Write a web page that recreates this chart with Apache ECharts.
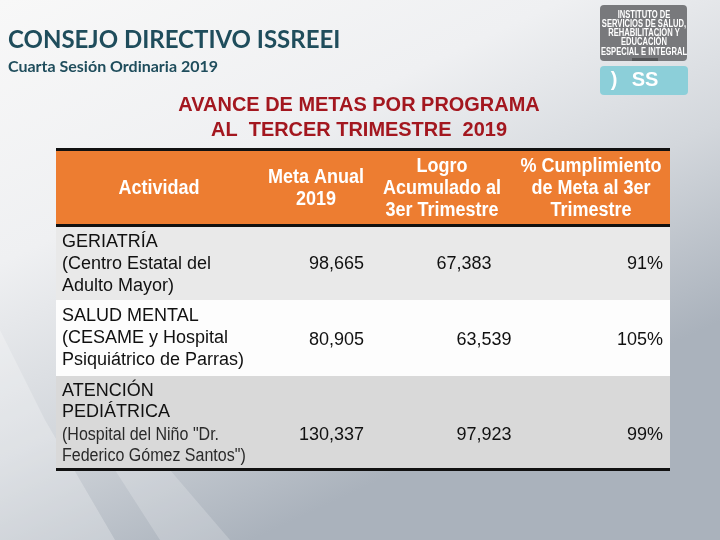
<!DOCTYPE html>
<html>
<head>
<meta charset="utf-8">
<script src="https://cdn.jsdelivr.net/npm/echarts@6/dist/echarts.min.js"></script>
<style>
  html, body { margin: 0; padding: 0; }
  #main { width: 720px; height: 540px; }
</style>
</head>
<body>
<div id="main"></div>
<script>
// datos de la tabla
var encabezados = [
  ['Actividad'],
  ['Meta Anual', '2019'],
  ['Logro', 'Acumulado al', '3er Trimestre'],
  ['% Cumplimiento', 'de Meta al 3er', 'Trimestre']
]
var actividades = [
  ['GERIATRÍA', '(Centro Estatal del', 'Adulto Mayor)'],
  ['SALUD MENTAL', '(CESAME y Hospital', 'Psiquiátrico de Parras)'],
  ['ATENCIÓN', 'PEDIÁTRICA', '(Hospital del Niño "Dr.', 'Federico Gómez Santos")']
]
var metaAnual = [98665, 80905, 130337]
var logro = [67383, 63539, 97923]
var cumplimiento = [91, 105, 99]

var titulo = 'CONSEJO DIRECTIVO ISSREEI'
var subtitulo = 'Cuarta Sesión Ordinaria 2019'
var tituloTabla = ['AVANCE DE METAS POR PROGRAMA', 'AL  TERCER TRIMESTRE  2019']
var logoTexto = ['INSTITUTO DE', 'SERVICIOS DE SALUD,', 'REHABILITACIÓN Y', 'EDUCACIÓN', 'ESPECIAL E INTEGRAL']

// layout
var tX = 56
var tW = 614
var headTop = 148
var headBottom = 227
var rowBounds = [227, 300, 376, 468]
var rowColors = ['#e9e9e9', '#fdfdfd', '#d9d9d9']
var headCenters = [159, 316, 442, 591]
var rowLineY = [[242, 264, 286], [316, 338, 360], [391, 412, 435, 456]]
var valueY = [264, 340, 435]
var logroX = [464, 484, 484]
var SANS = '"Liberation Sans", Arial'

function fmt(n) {
  return n.toLocaleString('en-US')
}

// texto con escala horizontal (para simular Arial Narrow)
function txt(text, x, y, font, fill, align, sx) {
  return {
    type: 'text', x: x, y: y, scaleX: sx || 1,
    style: { text: text, x: 0, y: 0, font: font, fill: fill, textAlign: align || 'left', textVerticalAlign: 'middle' }
  }
}

var chart = echarts.init(document.getElementById('main'))
var g = []

// fondo
g.push({
  type: 'rect', shape: { x: 0, y: 0, width: 720, height: 540 },
  style: {
    fill: new echarts.graphic.LinearGradient(0, 0, 0.35, 1, [
      { offset: 0, color: '#f8f8f8' },
      { offset: 0.4, color: '#eff0f2' },
      { offset: 0.7, color: '#d3d7dc' },
      { offset: 1, color: '#aab2bc' }
    ])
  }
})
g.push({
  type: 'polygon', shape: { points: [[0, 330], [45, 420], [115, 540], [0, 540]] },
  style: { fill: 'rgba(255,255,255,0.25)' }
})
g.push({
  type: 'polygon', shape: { points: [[115, 470], [170, 470], [230, 540], [160, 540]] },
  style: { fill: 'rgba(255,255,255,0.2)' }
})

// titulos
g.push(txt(titulo, 8, 40, 'bold 24px Lato', '#1f4d5c'))
g.push(txt(subtitulo, 8, 67, 'bold 16px Lato', '#1f4d5c'))
tituloTabla.forEach(function(t, i) {
  g.push(txt(t, 359, 105 + i * 25, 'bold 21px ' + SANS, '#a3171f', 'center', 0.95))
})

// logo
g.push({ type: 'rect', shape: { x: 600, y: 5, width: 87, height: 56, r: 4 }, style: { fill: '#78797c' } })
g.push({ type: 'rect', shape: { x: 632, y: 58, width: 26, height: 3 }, style: { fill: '#545557' } })
var logoY = [15, 24.5, 33.5, 42.5, 52]
logoTexto.forEach(function(t, i) {
  g.push(txt(t, 644, logoY[i], 'bold 10px ' + SANS, '#ffffff', 'center', 0.76))
})
g.push({ type: 'rect', shape: { x: 600, y: 66, width: 88, height: 29, r: 4 }, style: { fill: '#8ccfd9' } })
g.push(txt(')', 614, 80, 'bold 20px ' + SANS, '#ffffff', 'center'))
g.push(txt('SS', 645, 80, 'bold 20px ' + SANS, '#ffffff', 'center'))

// encabezado
g.push({ type: 'rect', shape: { x: tX, y: headTop, width: tW, height: headBottom - headTop }, style: { fill: '#ed7d31' } })
g.push({ type: 'rect', shape: { x: tX, y: headTop, width: tW, height: 3 }, style: { fill: '#111111' } })
g.push({ type: 'rect', shape: { x: tX, y: headBottom - 3, width: tW, height: 3 }, style: { fill: '#111111' } })
encabezados.forEach(function(lines, c) {
  var y0 = 188 - (lines.length - 1) * 11
  lines.forEach(function(t, i) {
    g.push(txt(t, headCenters[c], y0 + i * 22, 'bold 20px ' + SANS, '#ffffff', 'center', 0.9))
  })
})

// filas
actividades.forEach(function(lines, r) {
  g.push({ type: 'rect', shape: { x: tX, y: rowBounds[r], width: tW, height: rowBounds[r + 1] - rowBounds[r] }, style: { fill: rowColors[r] } })
  lines.forEach(function(t, i) {
    var narrow = r === 2 && i >= 2
    g.push(txt(t, 62, rowLineY[r][i], '18px ' + SANS, narrow ? '#2a2a2a' : '#111111', 'left', narrow ? 0.89 : 1))
  })
  var font = '18px ' + SANS
  g.push(txt(fmt(metaAnual[r]), 364, valueY[r], font, '#111111', 'right'))
  g.push(txt(fmt(logro[r]), logroX[r], valueY[r], font, '#111111', 'center'))
  g.push(txt(cumplimiento[r] + '%', 663, valueY[r], font, '#111111', 'right'))
})
g.push({ type: 'rect', shape: { x: tX, y: rowBounds[3], width: tW, height: 3 }, style: { fill: '#111111' } })

chart.setOption({
  animation: false,
  graphic: { elements: g }
})
</script>
</body>
</html>
